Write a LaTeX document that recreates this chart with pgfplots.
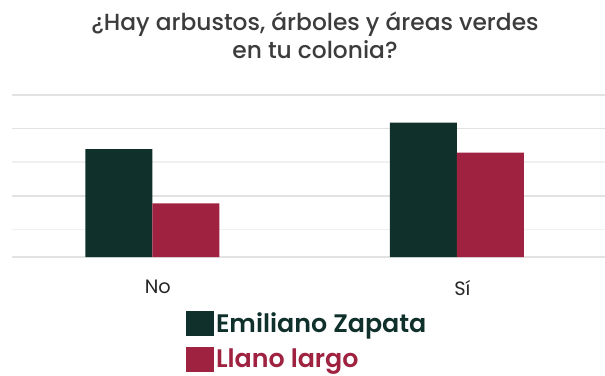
\documentclass[border=0pt]{standalone}
\usepackage{pgfplots}
\pgfplotsset{compat=1.18}
\usepackage{fontspec}
\setmainfont{Poppins}
\IfFontExistsTF{Poppins Medium}{\newfontfamily\medfont{Poppins Medium}}{\newfontfamily\medfont{Poppins}}
\IfFontExistsTF{Poppins SemiBold}{\newfontfamily\semifont{Poppins SemiBold}}{\newfontfamily\semifont{Poppins}[UprightFont=*-Bold]}
\definecolor{dgreen}{HTML}{10312B}
\definecolor{guinda}{HTML}{9F2241}
\definecolor{titlegray}{HTML}{3C3C3C}
\definecolor{gridgray}{HTML}{E2E2E2}
\definecolor{gridfaint}{HTML}{F0F0F0}
\begin{document}
\begin{tikzpicture}[x=0.75pt,y=0.75pt]
\path[use as bounding box] (0,0) rectangle (605,375);
\node[anchor=base,text=titlegray,font=\medfont\fontsize{17.5}{20}\selectfont,inner sep=0] at (315,344) {¿Hay arbustos, árboles y áreas verdes};
\node[anchor=base,text=titlegray,font=\medfont\fontsize{17.5}{20}\selectfont,inner sep=0] at (315,316) {en tu colonia?};
\begin{axis}[
  at={(9pt,88.5pt)}, anchor=south west,
  scale only axis, width=444.75pt, height=121.5pt,
  ybar=0pt, bar width=0.22,
  xmin=-0.461, xmax=1.486,
  ymin=0, ymax=162,
  xtick=data, xticklabels={No, Sí},
  xticklabel style={font=\fontsize{14.5}{16}\selectfont, text=black!85, xshift=4pt, yshift=-14pt},
  ytick={0,61,128.5,162},
  minor ytick={27.5,95},
  yticklabels={},
  ymajorgrids, yminorgrids,
  major grid style={gridgray, line width=0.8pt},
  minor grid style={gridfaint, line width=0.8pt},
  axis line style={draw=none},
  major tick length=0pt, minor tick length=0pt,
  clip=false,
  legend style={at={(0.293,-0.33)}, anchor=north west, draw=none, fill=none,
    inner sep=0pt, row sep=7.5pt, font=\semifont\fontsize{19}{22}\selectfont,
    nodes={inner sep=1.5pt}},
  legend cell align=left,
  legend image code/.code={\fill[#1] (0pt,-9.5pt) rectangle (21pt,9.5pt);},
]
\addplot[fill=dgreen, draw=none] coordinates {(0,108) (1,134.3)};
\addplot[fill=guinda, draw=none] coordinates {(0,53.7) (1,104.3)};
\legend{\textcolor{dgreen}{Emiliano Zapata}, \textcolor{guinda}{Llano largo}}
\end{axis}
\end{tikzpicture}
\end{document}
